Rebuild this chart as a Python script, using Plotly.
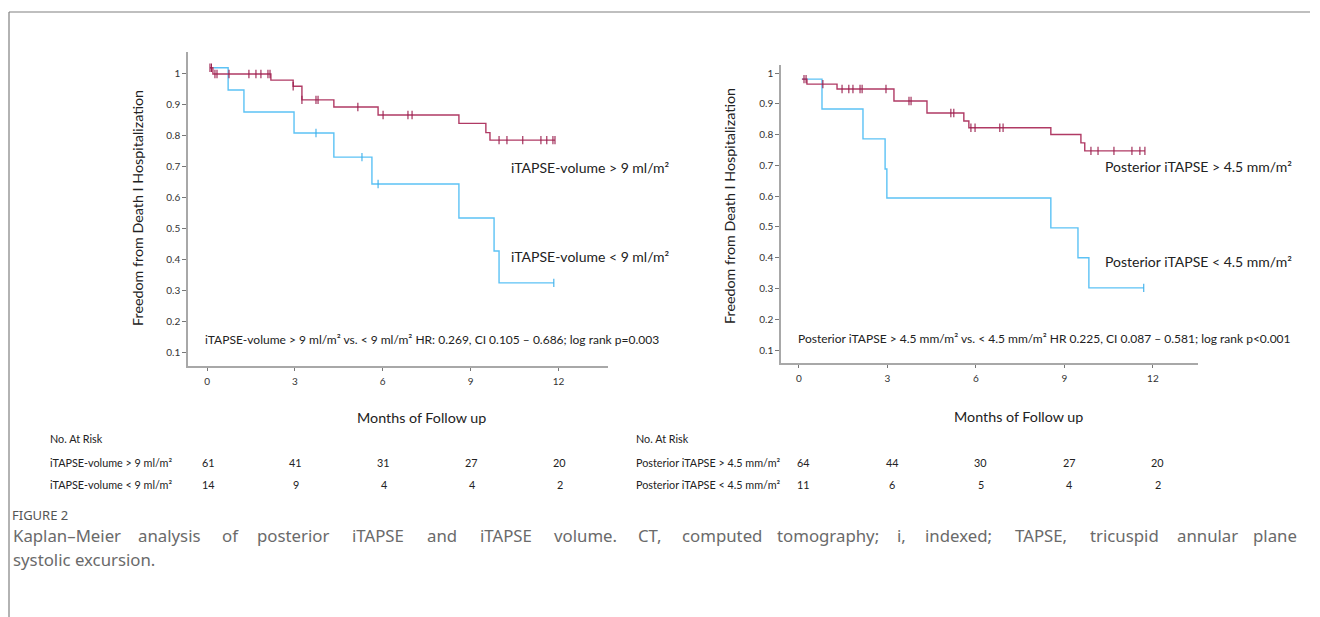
import plotly.graph_objects as go

# ---------------- data (months, survival) ----------------
# Left panel: iTAPSE-volume
lh_t = [0.1, 0.2, 2.18, 2.94, 3.24, 4.33, 5.84, 8.6, 9.52, 9.66, 11.88]
lh_s = [1.02, 1.0, 0.98, 0.96, 0.916, 0.893, 0.867, 0.84, 0.81, 0.786, 0.786]
lh_ct = [0.1, 0.15, 0.27, 0.34, 0.75, 1.43, 1.67, 1.84, 2.08, 2.15, 2.94, 3.24, 3.72, 3.79,
         5.15, 6.01, 6.86, 7.0, 9.97, 10.24, 10.78, 11.4, 11.6, 11.81, 11.88]
lh_cs = [1.02, 1.02, 1.0, 1.0, 1.0, 1.0, 1.0, 1.0, 1.0, 1.0, 0.96, 0.916, 0.916, 0.916,
         0.893, 0.867, 0.867, 0.867, 0.786, 0.786, 0.786, 0.786, 0.786, 0.786, 0.786]

ll_t = [0.1, 0.72, 1.26, 2.97, 4.33, 5.63, 8.6, 9.8, 9.97, 11.84]
ll_s = [1.02, 0.948, 0.877, 0.809, 0.731, 0.644, 0.534, 0.427, 0.324, 0.324]
ll_ct = [3.72, 5.29, 5.84, 11.84]
ll_cs = [0.809, 0.731, 0.644, 0.324]

# Right panel: posterior iTAPSE
rh_t = [0.1, 0.27, 1.29, 3.22, 4.34, 5.59, 5.76, 8.54, 9.56, 9.69, 11.73]
rh_s = [0.98, 0.964, 0.948, 0.909, 0.87, 0.844, 0.822, 0.80, 0.773, 0.747, 0.747]
rh_ct = [0.17, 0.24, 0.81, 1.46, 1.69, 1.83, 2.07, 2.14, 2.95, 3.73, 3.8, 5.15, 5.25,
         5.83, 5.97, 6.81, 6.92, 9.9, 10.14, 10.68, 11.29, 11.56, 11.73]
rh_cs = [0.98, 0.98, 0.964, 0.948, 0.948, 0.948, 0.948, 0.948, 0.948, 0.909, 0.909, 0.87, 0.87,
         0.822, 0.822, 0.822, 0.822, 0.747, 0.747, 0.747, 0.747, 0.747, 0.747]

rl_t = [0.1, 0.78, 2.17, 2.92, 2.98, 8.54, 9.46, 9.83, 11.69]
rl_s = [0.98, 0.883, 0.786, 0.688, 0.594, 0.497, 0.40, 0.302, 0.302]
rl_ct = [11.69]
rl_cs = [0.302]

x_ticks = [0, 3, 6, 9, 12]
y_ticks = [0.1, 0.2, 0.3, 0.4, 0.5, 0.6, 0.7, 0.8, 0.9, 1.0]
y_ticktext = ["0.1", "0.2", "0.3", "0.4", "0.5", "0.6", "0.7", "0.8", "0.9", "1"]

risk_left_rows = ["iTAPSE-volume > 9 ml/m²", "iTAPSE-volume < 9 ml/m²"]
risk_left_high = [61, 41, 31, 27, 20]
risk_left_low = [14, 9, 4, 4, 2]
risk_right_rows = ["Posterior iTAPSE > 4.5 mm/m²", "Posterior iTAPSE < 4.5 mm/m²"]
risk_right_high = [64, 44, 30, 27, 20]
risk_right_low = [11, 6, 5, 4, 2]

left_stats = "iTAPSE-volume > 9 ml/m² vs. < 9 ml/m² HR: 0.269, CI 0.105 – 0.686; log rank p=0.003"
right_stats = "Posterior iTAPSE > 4.5 mm/m² vs. < 4.5 mm/m² HR 0.225, CI 0.087 – 0.581; log rank p<0.001"

caption_head = "FIGURE 2"
caption_line1 = ("Kaplan–Meier analysis of posterior iTAPSE and iTAPSE volume. CT, computed "
                 "tomography; i, indexed; TAPSE, tricuspid annular plane")
caption_line2 = "systolic excursion."

# ---------------- styling ----------------
W, H = 1320, 617
RED = "#B03A64"
RED_C = "#9A1F4E"
BLUE = "#5CC2F5"
BLUE_C = "#3AAEEA"
AXC = "#A8A8A8"
FONT = "Lato"


def px(x):
    return x / W


def py(y):
    return 1 - y / H


fig = go.Figure()


def add_curve(t, s, ct, cs, color, ccolor, xa, ya):
    fig.add_trace(go.Scatter(x=t, y=s, mode="lines", line=dict(color=color, width=1.4, shape="hv"),
                             xaxis=xa, yaxis=ya, showlegend=False, hoverinfo="skip"))
    fig.add_trace(go.Scatter(x=ct, y=cs, mode="markers",
                             marker=dict(symbol="line-ns-open", size=6, color=ccolor,
                                         line=dict(color=ccolor, width=1.1)),
                             xaxis=xa, yaxis=ya, showlegend=False, hoverinfo="skip"))


add_curve(ll_t, ll_s, ll_ct, ll_cs, BLUE, BLUE_C, "x", "y")
add_curve(lh_t, lh_s, lh_ct, lh_cs, RED, RED_C, "x", "y")
add_curve(rl_t, rl_s, rl_ct, rl_cs, BLUE, BLUE_C, "x2", "y2")
add_curve(rh_t, rh_s, rh_ct, rh_cs, RED, RED_C, "x2", "y2")

xcommon = dict(tickvals=x_ticks, ticks="outside", ticklen=3, tickcolor="#777", tickwidth=1,
               showline=True, linecolor=AXC, linewidth=1.5, showgrid=False, zeroline=False,
               tickfont=dict(family=FONT, size=10, color="#333"), ticklabelstandoff=2)
ycommon = dict(tickvals=y_ticks, ticktext=y_ticktext, ticks="outside", ticklen=4, tickcolor="#777",
               tickwidth=1, showline=True, linecolor=AXC, linewidth=1.5, showgrid=False,
               zeroline=False, tickfont=dict(family=FONT, size=10, color="#333"))

fig.update_layout(
    width=W, height=H, margin=dict(l=0, r=0, t=0, b=0),
    paper_bgcolor="white", plot_bgcolor="white", showlegend=False,
    xaxis=dict(domain=[px(188), px(608)], range=[-0.65, 13.69], anchor="y", **xcommon),
    yaxis=dict(domain=[py(366), py(52)], range=[0.055, 1.071], anchor="x", **ycommon),
    xaxis2=dict(domain=[px(781), px(1198)], range=[-0.61, 13.53], anchor="y2", **xcommon),
    yaxis2=dict(domain=[py(363), py(65)], range=[0.058, 1.026], anchor="x2", **ycommon),
)

ann = []


def text(x, y, s, size, color="#222", xanchor="left", angle=0, fam=FONT, xref="paper", xshift=0):
    ann.append(dict(x=x, y=y, xref=xref, yref="paper", text=s, showarrow=False, xanchor=xanchor,
                    yanchor="middle", textangle=angle, xshift=xshift, borderpad=0,
                    font=dict(family=fam, size=size, color=color)))


# axis titles
text(px(421), py(417), "Months of Follow up", 14.3, xanchor="center")
text(px(1018), py(416), "Months of Follow up", 14.3, xanchor="center")
text(px(137), py(208), "Freedom from Death I Hospitalization", 14.3, xanchor="center", angle=-90)
text(px(729), py(206), "Freedom from Death I Hospitalization", 14.3, xanchor="center", angle=-90)

# curve labels
text(px(510), py(168), risk_left_rows[0], 14)
text(px(510), py(256), risk_left_rows[1], 14)
text(px(1104), py(167), risk_right_rows[0], 14)
text(px(1104), py(261), risk_right_rows[1], 14)

# stats
text(px(204), py(339), left_stats, 12)
text(px(797), py(338), right_stats, 12)

# number at risk tables
for (x0, rows, hi, lo, xr, xs) in [(49, risk_left_rows, risk_left_high, risk_left_low, "x", 1),
                                   (635, risk_right_rows, risk_right_high, risk_right_low, "x2", 5)]:
    text(px(x0), py(439), "No. At Risk", 10.8)
    text(px(x0), py(462), rows[0], 10.8)
    text(px(x0), py(484), rows[1], 10.8)
    for t, a, b in zip(x_ticks, hi, lo):
        text(t, py(462), str(a), 10.8, xanchor="center", xref=xr, xshift=xs)
        text(t, py(484), str(b), 10.8, xanchor="center", xref=xr, xshift=xs)

# caption
CAPF = "Noto Sans"
CAPC = "#6a6a6a"
text(px(11), py(515), caption_head, 13, color="#555", fam=CAPF)

CW = {}
for ch in "iljI.,;:'|!":
    CW[ch] = 0.26
for ch in "frt":
    CW[ch] = 0.36
for ch in "mwMW":
    CW[ch] = 0.86
for ch in "ABCDEFGHKNOPQRSTUVXYZ":
    CW[ch] = 0.64


def word_w(w, size):
    return sum(CW.get(c, 0.55) for c in w) * size


cap_size = 16.8
words = caption_line1.split(" ")
widths = [word_w(w, cap_size) for w in words]
gap = (1298 - 12 - sum(widths)) / (len(words) - 1)
cx = 12
for i, (w, wd) in enumerate(zip(words, widths)):
    if i == 0:
        text(px(12), py(535), w, cap_size, color=CAPC, fam=CAPF, xanchor="left")
    elif i == len(words) - 1:
        text(px(1298), py(535), w, cap_size, color=CAPC, fam=CAPF, xanchor="right")
    else:
        text(px(cx + wd / 2), py(535), w, cap_size, color=CAPC, fam=CAPF, xanchor="center")
    cx += wd + gap
text(px(12), py(559), caption_line2, cap_size, color=CAPC, fam=CAPF)

fig.update_layout(annotations=ann)

# page frame lines
fig.add_shape(type="line", xref="paper", yref="paper", x0=px(9), x1=px(1310), y0=py(12), y1=py(12),
              line=dict(color="#808080", width=1.2))
fig.add_shape(type="line", xref="paper", yref="paper", x0=px(9), x1=px(9), y0=py(12), y1=0,
              line=dict(color="#808080", width=1.2))

fig.write_html("out.html", config={"displayModeBar": False},
               post_script="document.body.style.margin='0';")
